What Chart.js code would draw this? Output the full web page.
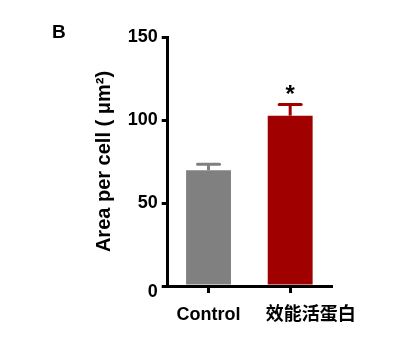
<!DOCTYPE html>
<html lang="zh">
<head>
    <meta charset="UTF-8">
    <title>Area per cell</title>
    <script src="https://cdn.jsdelivr.net/npm/chart.js"></script>
    <style>
        html, body { margin: 0; padding: 0; background: #fff; }
        #wrap { width: 416px; height: 352px; }
    </style>
</head>
<body>
    <div id="wrap"><canvas id="areaChart" width="416" height="352"></canvas></div>
    <script>
        // 数据
        const categories = ['Control', '效能活蛋白'];
        const means = [69.7, 102.6];
        const errors = [3.6, 6.8]; // 上误差
        const significance = ['', '*'];
        const yTicks = [0, 50, 100, 150];
        const barColors = ['#808080', '#a00000'];

        const fontFamily = "'Liberation Sans', Arial, 'Noto Sans CJK SC', sans-serif";

        // 误差线 + 星号 + 面板字母
        const extrasPlugin = {
            id: 'extras',
            afterDatasetsDraw(chart) {
                const ctx = chart.ctx;
                const meta = chart.getDatasetMeta(0);
                const y = chart.scales.y;
                ctx.save();
                meta.data.forEach((bar, i) => {
                    const yTop = y.getPixelForValue(means[i]);
                    const yErr = y.getPixelForValue(means[i] + errors[i]);
                    ctx.strokeStyle = barColors[i];
                    ctx.lineWidth = 3;
                    ctx.lineCap = 'butt';
                    ctx.beginPath();
                    ctx.moveTo(bar.x, yTop);
                    ctx.lineTo(bar.x, yErr);
                    ctx.stroke();
                    ctx.lineCap = 'round';
                    ctx.beginPath();
                    ctx.moveTo(bar.x - 11, yErr);
                    ctx.lineTo(bar.x + 11, yErr);
                    ctx.stroke();
                    if (significance[i]) {
                        ctx.fillStyle = '#000';
                        ctx.font = 'bold 24px ' + fontFamily;
                        ctx.textAlign = 'center';
                        ctx.textBaseline = 'alphabetic';
                        ctx.fillText(significance[i], bar.x, yErr - 2);
                    }
                });
                ctx.fillStyle = '#000';
                ctx.font = 'bold 19px ' + fontFamily;
                ctx.textAlign = 'left';
                ctx.textBaseline = 'alphabetic';
                ctx.fillText('B', 52, 38);
                ctx.restore();
            }
        };

        const ctx = document.getElementById('areaChart').getContext('2d');
        new Chart(ctx, {
            type: 'bar',
            data: {
                labels: categories,
                datasets: [{
                    data: means,
                    backgroundColor: barColors,
                    borderWidth: 0,
                    categoryPercentage: 1,
                    barPercentage: 0.55
                }]
            },
            options: {
                responsive: false,
                animation: false,
                layout: { padding: { left: 80, right: 85, top: 37, bottom: 16 } },
                plugins: {
                    legend: { display: false },
                    tooltip: { enabled: false }
                },
                scales: {
                    x: {
                        border: { display: true, color: '#000', width: 3 },
                        grid: { offset: false, drawOnChartArea: false, drawTicks: true, tickLength: 7, color: '#000', lineWidth: 3 },
                        ticks: {
                            color: '#000',
                            padding: 11,
                            autoSkip: false,
                            maxRotation: 0,
                            minRotation: 0,
                            font: { family: fontFamily, size: 18, weight: 'bold' },
                            callback: (v, i) => i === 1 ? '\u3000\u3000 ' + categories[i] : categories[i]
                        },
                        afterFit: (scale) => { scale.height = 50; }
                    },
                    y: {
                        min: yTicks[0],
                        max: yTicks[yTicks.length - 1],
                        afterBuildTicks: (scale) => { scale.ticks = yTicks.map(v => ({ value: v })); },
                        border: { display: true, color: '#000', width: 3 },
                        grid: { drawOnChartArea: false, drawTicks: true, tickLength: 6, color: '#000', lineWidth: 3 },
                        ticks: {
                            color: '#000',
                            padding: 4,
                            font: { family: fontFamily, size: 18, weight: 'bold', lineHeight: 0.72 },
                            callback: (v) => v === 0 ? ['', '0'] : String(v)
                        },
                        title: {
                            display: true,
                            text: 'Area per cell ( \u03bcm\u00b2)',
                            color: '#000',
                            font: { family: fontFamily, size: 20, weight: 'bold' },
                            padding: { top: 12, bottom: 0 }
                        },
                        afterFit: (scale) => { scale.width = 87.7; }
                    }
                }
            },
            plugins: [extrasPlugin]
        });
    </script>
</body>
</html>
